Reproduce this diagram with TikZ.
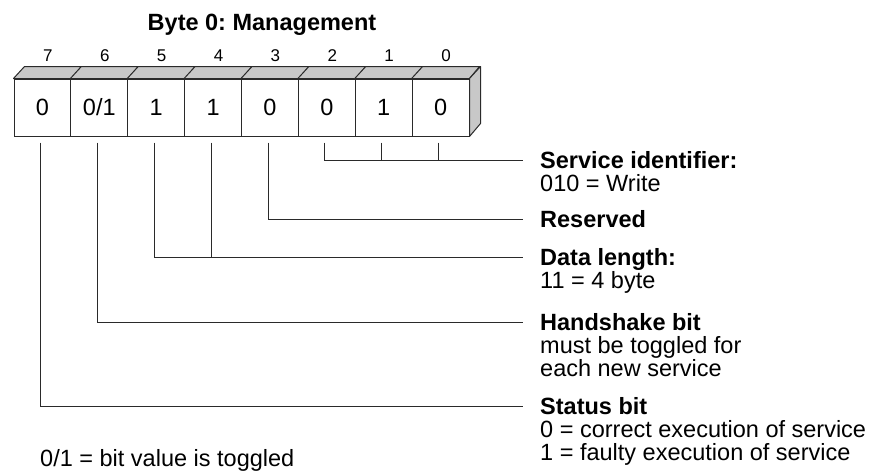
\documentclass[tikz,border=0pt]{standalone}
\usepackage{fontspec}
\setmainfont{Liberation Sans}
\usetikzlibrary{calc}
\definecolor{facegray}{HTML}{C8C8C8}
\definecolor{inkgray}{HTML}{2A2A2A}
\frenchspacing

\begin{document}
\begin{tikzpicture}[x=1pt,y=-1pt,
  font=\fontsize{23.5}{23}\selectfont,
  bitcell/.style={draw=inkgray, line width=1pt, minimum width=56.875pt, minimum height=57pt, inner sep=0pt},
  bitno/.style={anchor=base, inner sep=0pt, font=\fontsize{17}{18}\selectfont},
  face/.style={fill=facegray, draw=inkgray, line width=1pt, line join=round},
  lead/.style={draw=inkgray, line width=0.8pt},
  desc/.style={anchor=north west, align=left, inner sep=0pt}
]
\useasboundingbox (0,0) rectangle (877,471);

\node[font=\fontsize{23.5}{23}\selectfont\bfseries] (title) at (262,25) {Byte 0: Management};

% the byte
\foreach \b/\v in {7/0,6/{0/1},5/1,4/1,3/0,2/0,1/1,0/0}
  \node[bitcell] (c\b) at ({14+(7.5-\b)*56.875},107.5) {\v};
\foreach \b in {7,...,0} {
  \draw[face] (c\b.north west) -- ++(11,-12) -- ++(56.875,0) -- (c\b.north east) -- cycle;
  \node[bitno] (n\b) at ([xshift=5.5pt,yshift=17pt]c\b.north) {\b};
}
\draw[face] (c0.north east) -- ++(11,-12) -- ++(0,57) -- (c0.south east) -- cycle;

% meanings
\node[desc] (svc) at (540,151) {\textbf{Service identifier:}\\010 = Write};
\node[desc] (res) at (540,210) {\textbf{Reserved}};
\node[desc] (len) at (540,248) {\textbf{Data length:}\\11 = 4 byte};
\node[desc] (hs) at (540,313) {\textbf{Handshake bit}\\must be toggled for\\each new service};
\node[desc] (st) at (540,397) {\textbf{Status bit}\\0 = correct execution of service\\1 = faulty execution of service};
\node[anchor=west, inner sep=0pt] (note) at (40,460) {0/1 = bit value is toggled};

\coordinate (svc-in) at (523,160);
\coordinate (res-in) at (523,219);
\coordinate (len-in) at (523,257);
\coordinate (hs-in) at (523,322);
\coordinate (st-in) at (523,406);

\draw[lead] ([xshift=-2pt,yshift=-6pt]c2.south) |- (svc-in);
\draw[lead] ([xshift=-2pt,yshift=-6pt]c1.south) -- ([xshift=-2pt]c1.south |- svc-in);
\draw[lead] ([xshift=-2pt,yshift=-6pt]c0.south) -- ([xshift=-2pt]c0.south |- svc-in);
\draw[lead] ([xshift=-2pt,yshift=-6pt]c3.south) |- (res-in);
\draw[lead] ([xshift=-2pt,yshift=-6pt]c5.south) |- (len-in);
\draw[lead] ([xshift=-2pt,yshift=-6pt]c4.south) -- ([xshift=-2pt]c4.south |- len-in);
\draw[lead] ([xshift=-2pt,yshift=-6pt]c6.south) |- (hs-in);
\draw[lead] ([xshift=-2pt,yshift=-6pt]c7.south) |- (st-in);
\end{tikzpicture}
\end{document}
